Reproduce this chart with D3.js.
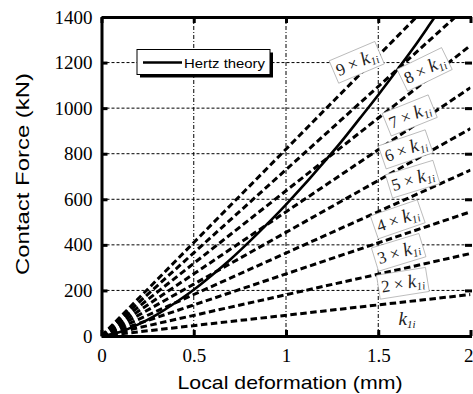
<!DOCTYPE html>
<html>
<head>
<meta charset="utf-8">
<script src="https://cdn.jsdelivr.net/npm/d3@7"></script>
<style>
  body { margin: 0; background: #fff; }
  svg { display: block; }
</style>
</head>
<body>
<div id="chart"></div>
<script>
// values
const xTicks = [0, 0.5, 1, 1.5, 2];
const yTicks = [0, 200, 400, 600, 800, 1000, 1200, 1400];

// Hertz theory curve (deformation mm, force kN)
const hertzDelta = [0, 0.1, 0.2, 0.3, 0.4, 0.5, 0.6, 0.7, 0.8, 0.9, 1.0, 1.1, 1.2, 1.3, 1.4, 1.5, 1.6, 1.7, 1.8, 1.85];
const hertzForce = [0, 18, 51, 94, 146, 203, 268, 337, 413, 493, 577, 665, 758, 853, 955, 1058, 1165, 1275, 1392, 1450];

// linear stiffness lines n x k1i : force reached at delta = 2 mm
const multiples = [1, 2, 3, 4, 5, 6, 7, 8, 9];
const forceAt2 = [182, 362, 545, 728, 910, 1090, 1275, 1460, 1640];

const width = 473, height = 394;
const margin = { left: 101.5, right: 2.5, top: 17, bottom: 58 };

const sans = '"Liberation Sans"';

// serif is inherited from the root, sans set where needed
const svg = d3.select("#chart").append("svg")
    .attr("width", width)
    .attr("height", height)
    .attr("font-family", "Liberation Serif");

const x = d3.scaleLinear().domain([0, 2]).range([margin.left, width - margin.right]);
const y = d3.scaleLinear().domain([0, 1400]).range([height - margin.bottom, margin.top]);

svg.append("defs").append("clipPath")
    .attr("id", "plot-clip")
    .append("rect")
    .attr("x", x(0)).attr("y", y(1400))
    .attr("width", x(2) - x(0)).attr("height", y(0) - y(1400));

// grid
const grid = svg.append("g").attr("class", "grid");
grid.selectAll("line.vx")
    .data(xTicks.slice(1, -1))
    .enter().append("line")
    .attr("x1", d => x(d)).attr("x2", d => x(d))
    .attr("y1", y(0)).attr("y2", y(1400))
    .attr("stroke", "#000").attr("stroke-width", 1)
    .attr("stroke-dasharray", "4,2,1,2");
grid.selectAll("line.hy")
    .data(yTicks.slice(1, -1))
    .enter().append("line")
    .attr("x1", x(0)).attr("x2", x(2))
    .attr("y1", d => y(d)).attr("y2", d => y(d))
    .attr("stroke", "#000").attr("stroke-width", 1)
    .attr("stroke-dasharray", "3,2");

// data lines
const plot = svg.append("g").attr("clip-path", "url(#plot-clip)");

plot.selectAll("line.kline")
    .data(multiples)
    .enter().append("line")
    .attr("class", "kline")
    .attr("x1", x(0)).attr("y1", y(0))
    .attr("x2", x(2)).attr("y2", (d, i) => y(forceAt2[i]))
    .attr("stroke", "#000").attr("stroke-width", 3)
    .attr("stroke-dasharray", "6.5,3.5");

const hertzPts = hertzDelta.map((d, i) => [d, hertzForce[i]]);
plot.append("path")
    .datum(hertzPts)
    .attr("fill", "none")
    .attr("stroke", "#000")
    .attr("stroke-width", 2.6)
    .attr("d", d3.line().x(d => x(d[0])).y(d => y(d[1])).curve(d3.curveMonotoneX));

// axes (ticks point inward)
function styleAxis(sel) {
    sel.attr("font-family", null).attr("font-size", null);
    sel.select(".domain").attr("stroke-width", 3);
    sel.selectAll(".tick line").attr("stroke-width", 3);
    sel.selectAll("text").style("font-size", "19px").attr("fill", "#000");
}

svg.append("g")
    .attr("transform", `translate(${x(0)},0)`)
    .call(d3.axisLeft(y).tickValues(yTicks).tickFormat(d3.format("d")).tickSize(-6).tickSizeOuter(0).tickPadding(9))
    .call(styleAxis);

const xAxis = svg.append("g")
    .attr("transform", `translate(0,${y(0)})`)
    .call(d3.axisBottom(x).tickValues(xTicks).tickFormat(d3.format("")).tickSize(-6).tickSizeOuter(0).tickPadding(12.5))
    .call(styleAxis);
// last label sits on the window edge: keep it inside
xAxis.selectAll(".tick text").filter(d => d === 2)
    .attr("text-anchor", "end").attr("x", 2.5);

svg.append("g")
    .attr("transform", `translate(0,${y(1400)})`)
    .call(d3.axisTop(x).tickValues(xTicks).tickFormat("").tickSize(-6).tickSizeOuter(0))
    .call(styleAxis);

svg.append("g")
    .attr("transform", `translate(${x(2) + 1.5},0)`)
    .call(d3.axisRight(y).tickValues(yTicks).tickFormat("").tickSize(-7).tickSizeOuter(0))
    .call(styleAxis)
    .select(".domain").remove();

// axis titles
svg.append("text")
    .attr("x", 290).attr("y", 389)
    .attr("text-anchor", "middle")
    .style("font-family", sans).style("font-size", "19px")
    .attr("textLength", 225).attr("lengthAdjust", "spacingAndGlyphs")
    .text("Local deformation (mm)");

svg.append("text")
    .attr("transform", "translate(29,174) rotate(-90)")
    .attr("text-anchor", "middle")
    .style("font-family", sans).style("font-size", "19px")
    .attr("textLength", 202).attr("lengthAdjust", "spacingAndGlyphs")
    .text("Contact Force (kN)");

// legend
const legend = svg.append("g").attr("transform", `translate(137,49.5)`);
legend.append("rect")
    .attr("x", 3).attr("y", 3).attr("width", 133).attr("height", 25)
    .attr("fill", "#000");
legend.append("rect")
    .attr("width", 133).attr("height", 25)
    .attr("fill", "#fff").attr("stroke", "#000").attr("stroke-width", 1);
legend.append("line")
    .attr("x1", 6).attr("x2", 45).attr("y1", 13).attr("y2", 13)
    .attr("stroke", "#000").attr("stroke-width", 2.6);
legend.append("text")
    .attr("x", 47).attr("y", 18)
    .style("font-family", sans).style("font-size", "13.5px")
    .attr("textLength", 81).attr("lengthAdjust", "spacingAndGlyphs")
    .text("Hertz theory");

// line labels: position in data units, rotation in degrees
const labelDelta = [1.656, 1.634, 1.612, 1.607, 1.688, 1.650, 1.672, 1.753, 1.385];
const labelForce = [70, 228, 364, 509, 685, 816, 965, 1167, 1198];
const labelAngle = [0, -9, -17, -19, -17, -19, -22, -26, -23];

multiples.forEach((n, i) => {
    const g = svg.append("g")
        .attr("transform", `translate(${x(labelDelta[i])},${y(labelForce[i])}) rotate(${labelAngle[i]})`);
    const box = g.append("rect");
    const t = g.append("text")
        .style("font-size", "17px")
        .attr("text-anchor", "middle").attr("dy", "0.3em")
        .attr("fill", "#222");
    if (n > 1) t.append("tspan").text(n + "\u00a0\u00d7\u00a0");
    t.append("tspan").style("font-style", "italic").style("font-size", "19px").text("k");
    t.append("tspan").style("font-style", "italic").style("font-size", "11px").attr("dy", "0.3em").text("1i");
    if (n > 1) {
        const bb = t.node().getBBox();
        box.attr("x", bb.x - 3).attr("y", bb.y - 1)
            .attr("width", bb.width + 6).attr("height", bb.height + 2)
            .attr("fill", "#fff").attr("stroke", "#999").attr("stroke-width", 0.6);
    }
});
</script>
</body>
</html>
